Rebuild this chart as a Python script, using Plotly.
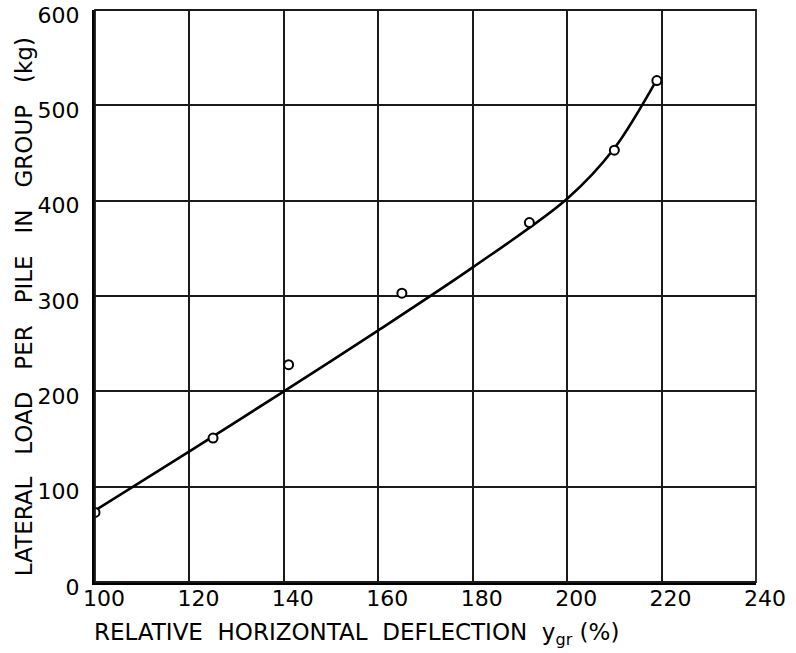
import plotly.graph_objects as go

# measured points
deflection = [100, 125, 141, 165, 192, 210, 219]
load = [73, 151, 228, 303, 377, 453, 526]

# hand-drawn fitted curve
curve_x = [100, 120, 140, 160, 180, 200, 210, 219]
curve_y = [75, 137, 200, 264, 330, 402, 455, 527]

x_ticks = [100, 120, 140, 160, 180, 200, 220, 240]
y_ticks = [0, 100, 200, 300, 400, 500, 600]

FONT = "DejaVu Sans"
SP = "\u00a0" * 3

fig = go.Figure()
fig.add_trace(go.Scatter(x=curve_x, y=curve_y, mode="lines",
                         line=dict(color="black", width=2.6, shape="spline", smoothing=0.9),
                         showlegend=False, hoverinfo="skip"))
fig.add_trace(go.Scatter(x=deflection, y=load, mode="markers",
                         marker=dict(symbol="circle", size=9, color="white",
                                     line=dict(color="black", width=2)),
                         showlegend=False))

fig.update_layout(
    width=796, height=653,
    margin=dict(l=95, r=40, t=10, b=71),
    paper_bgcolor="white", plot_bgcolor="white",
    font=dict(family=FONT, color="black"),
    xaxis=dict(range=[100, 240], tickvals=x_ticks, ticktext=[str(v) for v in x_ticks],
               showgrid=True, gridcolor="#1a1a1a", gridwidth=1.6,
               showline=True, linecolor="black", linewidth=3,
               ticks="", ticklen=0, zeroline=False, automargin=False,
               ticklabelshift=9, ticklabelstandoff=-5, ticklabeloverflow="allow",
               tickfont=dict(size=22, family=FONT)),
    yaxis=dict(range=[0, 600], tickvals=y_ticks, ticktext=[str(v) for v in y_ticks],
               showgrid=True, gridcolor="#1a1a1a", gridwidth=1.6,
               showline=True, linecolor="black", linewidth=3,
               ticks="", ticklen=0, zeroline=False, automargin=False,
               ticklabelstandoff=8, ticklabelshift=5, ticklabeloverflow="allow",
               tickfont=dict(size=22, family=FONT)),
    shapes=[dict(type="rect", xref="paper", yref="paper", x0=0, y0=0, x1=1, y1=1,
                 line=dict(color="#1a1a1a", width=1.8))],
    annotations=[
        dict(text="RELATIVE\u00a0\u00a0HORIZONTAL\u00a0\u00a0DEFLECTION\u00a0\u00a0y<sub>gr</sub>\u00a0(%)",
             xref="paper", yref="paper", x=-0.004, y=-0.091, xanchor="left", yanchor="middle",
             showarrow=False, font=dict(size=23, family=FONT)),
        dict(text=f"LATERAL{SP}LOAD{SP}PER{SP}PILE{SP}IN{SP}GROUP{SP}(kg)",
             xref="paper", yref="paper", x=-0.107, y=0.481, xanchor="center", yanchor="middle",
             textangle=-90, showarrow=False, font=dict(size=23, family=FONT)),
    ],
)

fig.write_html("out.html", config={"displayModeBar": False},
               post_script="document.body.style.margin='0';")
